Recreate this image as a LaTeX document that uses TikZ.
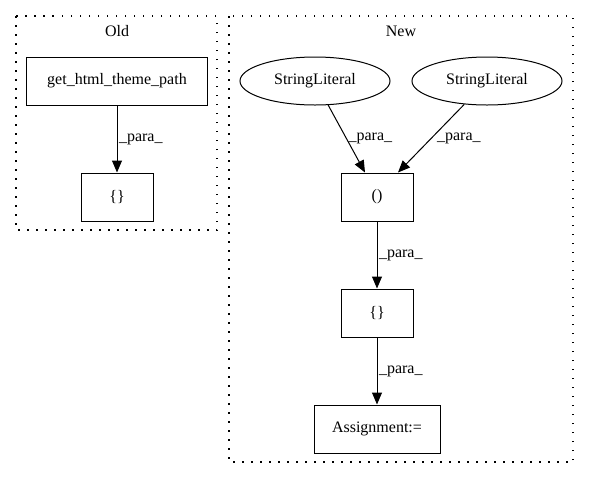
\documentclass[tikz,border=0pt]{standalone}
\usepackage{fontspec}
\setmainfont{Liberation Serif}
\usetikzlibrary{shapes.geometric,arrows.meta}

\begin{document}
\begin{tikzpicture}[x=1pt,y=-1pt,line width=1pt,
	every node/.style={font=\fontsize{16}{18}\selectfont,inner sep=0pt},
	box/.style={draw,rectangle,minimum height=48pt},
	lit/.style={draw,ellipse,minimum width=150pt,minimum height=48pt},
	edge/.style={-{Triangle[length=12pt,width=10pt]}},
	lbl/.style={right,inner sep=1.5pt},
	cluster/.style={draw,line width=1.3pt,dash pattern=on 1.5pt off 7.5pt}]
	\useasboundingbox(0,0)rectangle(589,480);
	\draw[cluster](16,16)rectangle(217,230);
	\draw[cluster](229,16)rectangle(573,462);
	\node(old)at(117,31){Old};
	\node(new)at(401,31){New};
	\node[box,minimum width=181pt](get)at(117,81){get\_html\_theme\_path};
	\node[box,minimum width=72pt](oldset)at(117,197){\{\}};
	\node[lit](s1)at(315,81){StringLiteral};
	\node[lit](s2)at(487,81){StringLiteral};
	\node[box,minimum width=72pt](par)at(377,197){()};
	\node[box,minimum width=72pt](newset)at(377,313){\{\}};
	\node[box,minimum width=126pt](assign)at(377,429){Assignment:=};
	\draw[edge](get)--(oldset)node[lbl,midway](l1){\_para\_};
	\draw[edge](s1)--([xshift=-12pt]par.north)node[lbl,midway](l2){\_para\_};
	\draw[edge](s2)--([xshift=21pt]par.north)node[lbl,midway,xshift=4pt](l3){\_para\_};
	\draw[edge](par)--(newset)node[lbl,midway](l4){\_para\_};
	\draw[edge](newset)--(assign)node[lbl,midway](l5){\_para\_};
\end{tikzpicture}
\end{document}
